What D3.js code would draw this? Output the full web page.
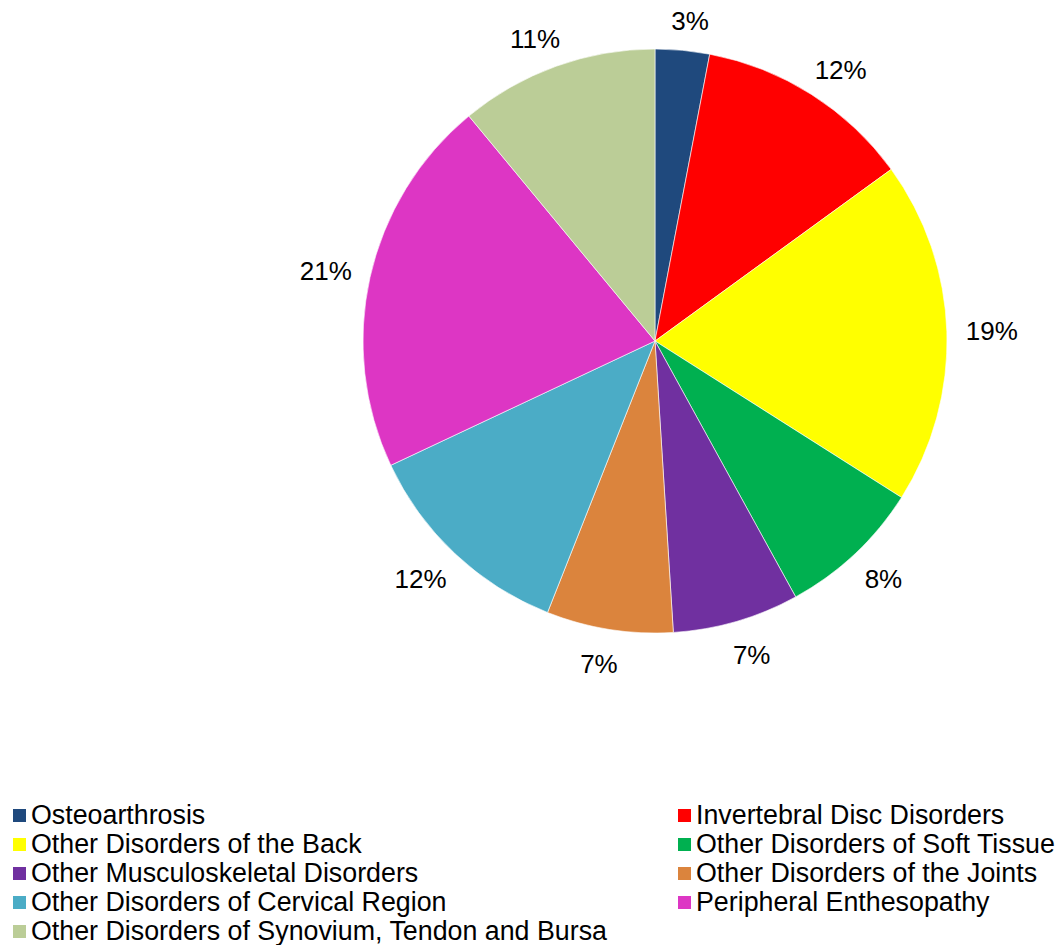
<!DOCTYPE html>
<html><head><meta charset="utf-8">
<script src="https://cdn.jsdelivr.net/npm/d3@7"></script>
<style>body{margin:0;background:#fff}svg{display:block}</style>
</head><body>
<script>
const categories = ["Osteoarthrosis","Invertebral Disc Disorders","Other Disorders of the Back","Other Disorders of Soft Tissue","Other Musculoskeletal Disorders","Other Disorders of the Joints","Other Disorders of Cervical Region","Peripheral Enthesopathy","Other Disorders of Synovium, Tendon and Bursa"];
const values = [3,12,19,8,7,7,12,21,11];
const colors = ["#1F497D","#FF0000","#FFFF00","#00B050","#7030A0","#DB843D","#4BACC6","#DD36C4","#BBCD97"];

const W=1060,H=945, cx=655, cy=341, R=292;
const svg=d3.select("body").append("svg").attr("width",W).attr("height",H);
const font="'Liberation Sans', Arial, sans-serif";
const pie=d3.pie().sort(null).value(d=>d)(values);
const arc=d3.arc().innerRadius(0).outerRadius(R);
const g=svg.append("g").attr("transform",`translate(${cx},${cy})`);
g.selectAll("path").data(pie).join("path").attr("d",arc)
 .attr("fill",(d,i)=>colors[i]).attr("stroke","#fff").attr("stroke-width",0.6);
const total=d3.sum(values);
const fs=26;
g.selectAll("text.lbl").data(pie).join("text").attr("class","lbl")
 .each(function(d){
   const a=(d.startAngle+d.endAngle)/2;
   const ux=Math.sin(a), uy=-Math.cos(a);
   const t=d3.select(this).attr("font-family",font).attr("font-size",fs).attr("fill","#000")
     .attr("text-anchor","middle").attr("dominant-baseline","central")
     .text(Math.round(d.value/total*100)+"%");
   const w=this.getComputedTextLength();
   const r=R+19;
   const xo=Math.sign(ux)*Math.sqrt(Math.abs(ux))*w/2;
   const yo=uy*(uy>0?16:10);
   t.attr("x", r*ux + xo).attr("y", r*uy + yo);
 });

const leg=svg.append("g");
const colX=[13,678], rowY0=814, rowH=29;
categories.forEach((c,i)=>{
  const col=i%2, row=Math.floor(i/2);
  const x=colX[col], y=rowY0+row*rowH;
  leg.append("rect").attr("x",x).attr("y",y-5).attr("width",13).attr("height",13).attr("fill",colors[i]);
  leg.append("text").attr("x",x+18).attr("y",y+1).attr("dominant-baseline","central")
    .attr("font-family",font).attr("font-size",26.8).attr("fill","#000").text(c);
});
</script>
</body></html>
